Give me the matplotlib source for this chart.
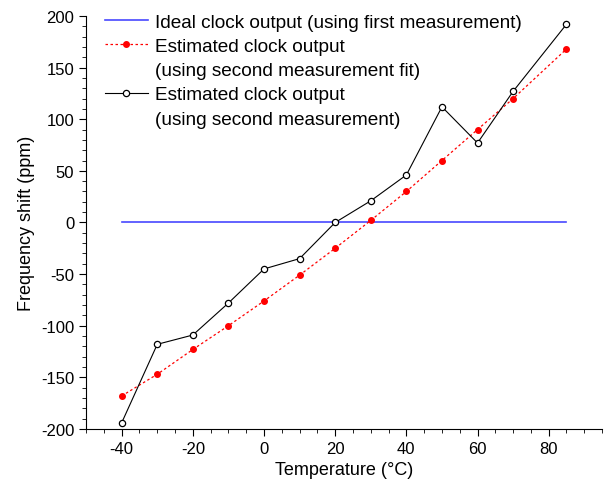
import matplotlib.pyplot as plt
from matplotlib.lines import Line2D
from matplotlib.ticker import MultipleLocator

plt.rcParams['font.family'] = ['Liberation Sans', 'DejaVu Sans']
plt.rcParams['axes.unicode_minus'] = False

temps = [-40, -30, -20, -10, 0, 10, 20, 30, 40, 50, 60, 70, 85]
ideal = [0] * len(temps)
fit = [-168, -147, -123, -100, -76, -51, -25, 2, 30, 60, 90, 120, 168]
measured = [-194, -118, -109, -78, -45, -35, 0, 21, 46, 112, 77, 127, 192]

fig = plt.figure(figsize=(6.15, 4.89), dpi=100)
ax = fig.add_axes([0.140, 0.1207, 0.839, 0.8446])

h1, = ax.plot(temps, ideal, color='#4848ff', lw=1.2)
h2, = ax.plot(temps, fit, color='red', ls=(0, (2, 2)), lw=0.9, marker='o', ms=4,
              mfc='red', mec='red')
h3, = ax.plot(temps, measured, color='black', lw=0.8, marker='o', ms=4.5,
              mfc='white', mec='black', mew=0.9)

ax.set_xlim(-50, 95)
ax.set_ylim(-200, 200)
ax.xaxis.set_minor_locator(MultipleLocator(5))
ax.yaxis.set_major_locator(MultipleLocator(50))
ax.yaxis.set_minor_locator(MultipleLocator(10))
ax.set_xticks([-40, -20, 0, 20, 40, 60, 80])
ax.spines['top'].set_visible(False)
ax.spines['right'].set_visible(False)
ax.tick_params(axis='both', which='major', direction='out', length=5, labelsize=12)
ax.tick_params(axis='both', which='minor', direction='out', length=3)

ax.set_xlabel('Temperature (°C)', fontsize=13)
ax.set_ylabel('Frequency shift (ppm)', fontsize=13)

# continuation lines of the two-line labels get an empty handle
blank = Line2D([], [], linestyle='none')
handles = [h1, h2, blank, h3, blank]
labels = ['Ideal clock output (using first measurement)',
          'Estimated clock output',
          '(using second measurement fit)',
          'Estimated clock output',
          '(using second measurement)']
ax.legend(handles, labels, loc='upper left', bbox_to_anchor=(0.01, 1.038),
          frameon=False, fontsize=13.7, handlelength=2.3, handletextpad=0.35,
          labelspacing=0.36, borderaxespad=0.3)

fig.savefig('out.png', dpi=100)
